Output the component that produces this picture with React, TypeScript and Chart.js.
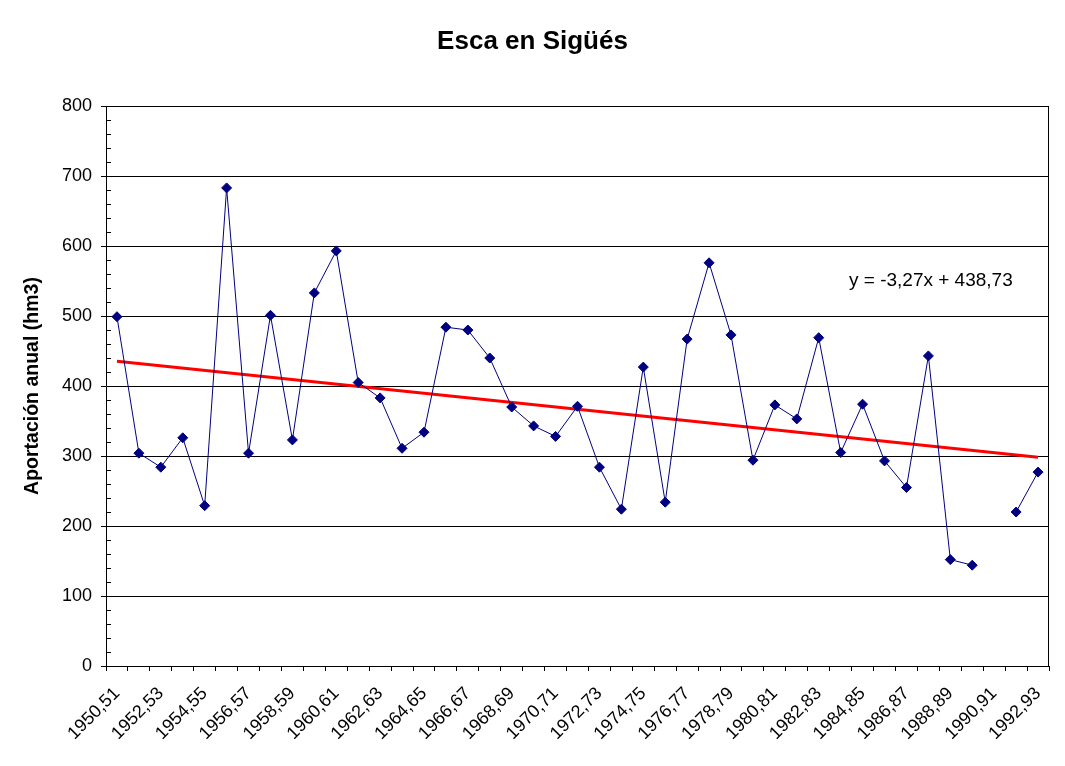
import React, { useEffect, useRef } from "react";
import { Chart, registerables } from "chart.js";

Chart.register(...registerables);

const categories: string[] = [
  "1950,51", "1951,52", "1952,53", "1953,54", "1954,55", "1955,56", "1956,57", "1957,58",
  "1958,59", "1959,60", "1960,61", "1961,62", "1962,63", "1963,64", "1964,65", "1965,66",
  "1966,67", "1967,68", "1968,69", "1969,70", "1970,71", "1971,72", "1972,73", "1973,74",
  "1974,75", "1975,76", "1976,77", "1977,78", "1978,79", "1979,80", "1980,81", "1981,82",
  "1982,83", "1983,84", "1984,85", "1985,86", "1986,87", "1987,88", "1988,89", "1989,90",
  "1990,91", "1991,92", "1992,93",
];

const aportacion: (number | null)[] = [
  499, 304, 284, 326, 229, 683, 304, 501, 323, 533,
  593, 405, 383, 311, 334, 484, 480, 440, 370, 343,
  328, 371, 284, 224, 427, 234, 467, 576, 473, 294,
  373, 353, 469, 305, 374, 293, 255, 443, 152, 144,
  null, 220, 277,
];

// Trend line endpoints (first and last category), as drawn in the picture
const trendStart = 435.5;
const trendEnd = 298.1;
const trendLabel = "y = -3,27x + 438,73";

const titleText = "Esca en Sigüés";
const yAxisTitle = "Aportación anual (hm3)";
const yMin = 0;
const yMax = 800;
const yStep = 100;
const yMinorStep = 20;

const FONT = "'Liberation Sans', Arial, Helvetica, sans-serif";

export default function App() {
  const ref = useRef<HTMLCanvasElement | null>(null);

  useEffect(() => {
    if (!ref.current) return;
    const trend: (number | null)[] = categories.map((_, i) =>
      i === 0 ? trendStart : i === categories.length - 1 ? trendEnd : null
    );

    const framePlugin = {
      id: "frame",
      afterDraw(chart: any) {
        const { ctx, chartArea } = chart;
        const y = chart.scales.y;
        const { left, right, top, bottom } = chartArea;
        ctx.save();
        ctx.strokeStyle = "#000";
        ctx.lineWidth = 1;
        ctx.beginPath();
        for (let v = yMin; v <= yMax; v += yMinorStep) {
          if (v % yStep === 0) continue;
          const py = Math.round(y.getPixelForValue(v)) + 0.5;
          ctx.moveTo(left, py);
          ctx.lineTo(left + 5, py);
        }
        const rx = Math.round(right) - 0.5;
        ctx.moveTo(rx, Math.round(top) + 0.5);
        ctx.lineTo(rx, Math.round(bottom) + 0.5);
        ctx.stroke();
        ctx.fillStyle = "#000";
        ctx.font = `19px ${FONT}`;
        ctx.textAlign = "left";
        ctx.textBaseline = "alphabetic";
        ctx.fillText(trendLabel, 849, 286);
        ctx.restore();
      },
    };

    const chart = new Chart(ref.current, {
      type: "line",
      data: {
        labels: categories,
        datasets: [
          {
            label: "Aportación",
            data: aportacion,
            borderColor: "#000080",
            backgroundColor: "#000080",
            borderWidth: 1,
            pointStyle: "rectRot",
            pointRadius: 5,
            pointBorderWidth: 1,
            pointBackgroundColor: "#000080",
            pointBorderColor: "#000080",
            spanGaps: false,
            tension: 0,
            order: 0,
          },
          {
            label: "Tendencia",
            data: trend,
            borderColor: "#FF0000",
            borderWidth: 3,
            pointRadius: 0,
            spanGaps: true,
            tension: 0,
            order: 1,
          },
        ],
      },
      options: {
        responsive: false,
        animation: false,
        devicePixelRatio: 1,
        layout: { padding: { left: 16, right: 16, top: 0, bottom: 0 } },
        plugins: {
          legend: { display: false },
          tooltip: { enabled: false },
          title: {
            display: true,
            text: titleText,
            color: "#000",
            font: { family: FONT, size: 26, weight: "bold" },
            padding: { top: 26.5, bottom: 48.3 },
          },
        },
        scales: {
          x: {
            type: "category",
            offset: true,
            grid: {
              offset: true,
              drawOnChartArea: false,
              drawTicks: true,
              tickLength: 5,
              color: "#000",
            },
            border: { color: "#000", width: 1 },
            ticks: {
              autoSkip: false,
              minRotation: 45,
              maxRotation: 45,
              color: "#000",
              padding: 12,
              labelOffset: 0,
              font: { family: FONT, size: 18 },
              callback: (_v: any, i: number) => (i % 2 === 0 ? categories[i] : ""),
            },
            afterFit: (scale: any) => {
              scale.height = 100;
              scale.paddingLeft = 0;
              scale.paddingRight = 0;
            },
          },
          y: {
            min: yMin,
            max: yMax,
            grid: { color: "#000", tickLength: 5, drawTicks: true },
            border: { color: "#000", width: 1 },
            ticks: {
              stepSize: yStep,
              color: "#000",
              padding: 9,
              font: { family: FONT, size: 18 },
            },
            title: {
              display: true,
              text: yAxisTitle,
              color: "#000",
              font: { family: FONT, size: 19.5, weight: "bold" },
              padding: { top: 5, bottom: 0 },
            },
            afterFit: (scale: any) => {
              scale.width = 90;
            },
          },
        },
      },
      plugins: [framePlugin],
    });
    return () => chart.destroy();
  }, []);

  return (
    <div style={{ position: "absolute", left: 0, top: 0, width: 1065, height: 766, background: "#fff" }}>
      <canvas ref={ref} width={1065} height={766} />
    </div>
  );
}
